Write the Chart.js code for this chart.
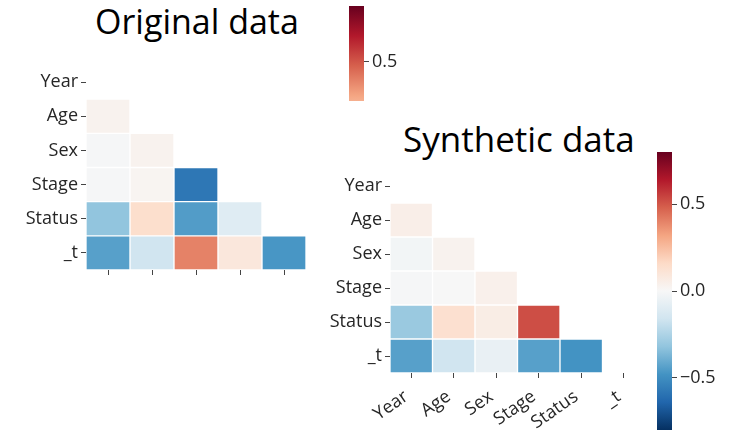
<!DOCTYPE html>
<html lang="en">
<head>
<meta charset="UTF-8">
<title>Original vs Synthetic correlations</title>
<script src="https://cdn.jsdelivr.net/npm/chart.js"></script>
<style>
    body { margin: 0; background: #fff; }
    .pagina { position: relative; width: 735px; height: 432px; overflow: hidden; font-family: 'Open Sans', sans-serif; }
    canvas, .titulo { position: absolute; }
    .titulo { font-size: 34px; color: #000; white-space: nowrap; line-height: 1; }
</style>
</head>
<body>
<div class="pagina">
    <div class="titulo" style="left:95px; top:4px;">Original data</div>
    <div class="titulo" style="left:403px; top:121px; font-size:35px;">Synthetic data</div>
    <canvas id="heatOrig" width="320" height="240" style="left:0; top:55px;"></canvas>
    <canvas id="barraOrig" width="70" height="110" style="left:340px; top:0;"></canvas>
    <canvas id="heatSint" width="360" height="272" style="left:300px; top:160px;"></canvas>
    <canvas id="barraSint" width="95" height="292" style="left:640px; top:140px;"></canvas>
</div>

<script>
// variaveis (linhas) e colunas de cada mapa
var linhas = ['Year', 'Age', 'Sex', 'Stage', 'Status', '_t']
var colunasOrig = ['Year', 'Age', 'Sex', 'Stage', 'Status']
var colunasSint = ['Year', 'Age', 'Sex', 'Stage', 'Status', '_t']

// correlacoes (null = triangulo escondido)
var corrOrig = [
    [null, null, null, null, null],
    [0.03, null, null, null, null],
    [-0.01, 0.03, null, null, null],
    [-0.01, 0.02, -0.58, null, null],
    [-0.32, 0.14, -0.45, -0.10, null],
    [-0.44, -0.16, 0.40, 0.09, -0.47]
]
var corrSint = [
    [null, null, null, null, null, null],
    [0.05, null, null, null, null, null],
    [-0.02, 0.03, null, null, null, null],
    [-0.01, 0.00, 0.04, null, null, null],
    [-0.30, 0.13, 0.06, 0.52, null, null],
    [-0.44, -0.16, -0.06, -0.44, -0.48, null]
]

// escala de cores e marcas das barras de cor
var VMIN = -0.8
var VMAX = 0.8
var marcasOrig = [0.5]
var marcasSint = [-0.5, 0.0, 0.5]

// RdBu_r
var paleta = ['#053061', '#2166ac', '#4393c3', '#92c5de', '#d1e5f0', '#f7f7f7',
              '#fddbc7', '#f4a582', '#d6604d', '#b2182b', '#67001f']

function hexParaRgb(h) {
    return [parseInt(h.slice(1, 3), 16), parseInt(h.slice(3, 5), 16), parseInt(h.slice(5, 7), 16)]
}

function corDoValor(v) {
    var t = (v - VMIN) / (VMAX - VMIN)
    t = Math.max(0, Math.min(1, t)) * (paleta.length - 1)
    var i = Math.min(Math.floor(t), paleta.length - 2)
    var f = t - i
    var a = hexParaRgb(paleta[i]), b = hexParaRgb(paleta[i + 1])
    var c = a.map(function (x, k) { return Math.round(x + (b[k] - x) * f) })
    return 'rgb(' + c.join(',') + ')'
}

var fonteTick = { family: "'Open Sans', sans-serif", size: 18 }
var corTexto = '#262626'
Chart.defaults.animation = false

// tira o espaco extra que o Chart.js reserva pra metade dos rotulos das pontas
function semFolga(s) {
    s.paddingTop = 0
    s.paddingBottom = 0
    s.paddingLeft = 0
    s.paddingRight = 0
}

function montarHeatmap(idCanvas, matriz, colunas, comRotulosX, largY, altX, pad) {
    var datasets = linhas.map(function (nome, r) {
        return {
            label: nome,
            data: colunas.map(function (c, j) { return matriz[r][j] === null ? null : [r - 0.5, r + 0.5] }),
            backgroundColor: colunas.map(function (c, j) { return matriz[r][j] === null ? 'rgba(0,0,0,0)' : corDoValor(matriz[r][j]) }),
            borderColor: 'rgba(255,255,255,0.55)',
            borderWidth: 1,
            borderSkipped: false,
            barPercentage: 1,
            categoryPercentage: 1,
            grouped: false
        }
    })

    new Chart(document.getElementById(idCanvas), {
        type: 'bar',
        data: { labels: colunas, datasets: datasets },
        options: {
            responsive: false,
            layout: { padding: pad },
            plugins: { legend: { display: false }, tooltip: { enabled: false } },
            scales: {
                x: {
                    offset: true,
                    border: { display: false },
                    grid: { offset: false, drawOnChartArea: false, tickLength: 5, tickColor: '#444' },
                    ticks: {
                        font: fonteTick, color: corTexto, padding: 8, labelOffset: -5, autoSkip: false,
                        minRotation: comRotulosX ? 35 : 0, maxRotation: comRotulosX ? 35 : 0,
                        callback: function (v, i) { return comRotulosX ? colunas[i] : '' }
                    },
                    afterFit: function (s) { s.height = altX; semFolga(s) }
                },
                y: {
                    type: 'linear', reverse: true, min: -0.5, max: 5.5,
                    border: { display: false },
                    grid: { drawOnChartArea: false, tickLength: 5, tickColor: '#444' },
                    afterBuildTicks: function (s) { s.ticks = linhas.map(function (n, i) { return { value: i } }) },
                    ticks: {
                        font: fonteTick, color: corTexto, padding: 3,
                        callback: function (v) { return linhas[v] }
                    },
                    afterFit: function (s) { s.width = largY; semFolga(s) }
                }
            }
        }
    })
}

function gradiente(chart) {
    var escala = chart.scales.y
    if (!chart.chartArea || !escala) return paleta[5]
    var y0 = escala.getPixelForValue(VMIN), y1 = escala.getPixelForValue(VMAX)
    if (!isFinite(y0) || !isFinite(y1)) return paleta[5]
    var g = chart.ctx.createLinearGradient(0, y0, 0, y1)
    paleta.forEach(function (c, i) { g.addColorStop(i / (paleta.length - 1), c) })
    return g
}

function montarBarra(idCanvas, minY, maxY, marcas, largY, pad) {
    new Chart(document.getElementById(idCanvas), {
        type: 'bar',
        data: {
            labels: ['cor'],
            datasets: [{
                data: [[VMIN, VMAX]],
                backgroundColor: function (ctx) { return gradiente(ctx.chart) },
                barPercentage: 1,
                categoryPercentage: 1,
                borderWidth: 0
            }]
        },
        options: {
            responsive: false,
            layout: { padding: pad },
            plugins: { legend: { display: false }, tooltip: { enabled: false } },
            scales: {
                x: { display: false },
                y: {
                    position: 'right', min: minY, max: maxY,
                    border: { display: false },
                    grid: { drawOnChartArea: false, tickLength: 5, tickColor: '#444' },
                    afterBuildTicks: function (s) { s.ticks = marcas.map(function (m) { return { value: m } }) },
                    ticks: {
                        font: fonteTick, color: corTexto, padding: 3,
                        callback: function (v) { return (v < 0 ? '\u2212' : '') + Math.abs(v).toFixed(1) }
                    },
                    afterFit: function (s) { s.width = largY; semFolga(s) }
                }
            }
        }
    })
}

montarHeatmap('heatOrig', corrOrig, colunasOrig, false, 86, 25, { top: 10, right: 14, left: 0, bottom: 0 })
montarHeatmap('heatSint', corrSint, colunasSint, true, 90, 59, { top: 9, right: 15, left: 0, bottom: 0 })
montarBarra('barraOrig', 0.29, VMAX, marcasOrig, 46, { left: 9, top: 6, bottom: 9, right: 0 })
montarBarra('barraSint', VMIN, VMAX, marcasSint, 63, { left: 17, top: 12, bottom: 2, right: 0 })
</script>
</body>
</html>
